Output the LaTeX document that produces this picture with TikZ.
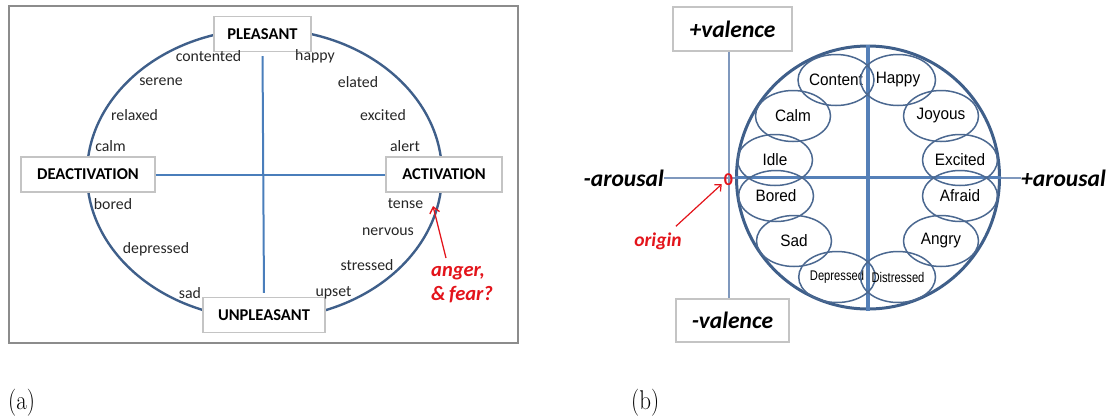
\documentclass[tikz,border=0pt]{standalone}
\usepackage{fontspec}
\newfontfamily\carl{Carlito}
\newfontfamily\arl{Liberation Sans}[FakeStretch=0.93]
\newfontfamily\arlc{Liberation Sans}[FakeStretch=0.8]
\usetikzlibrary{arrows.meta,shapes.geometric,calc}
\definecolor{ringA}{HTML}{3F5F8A}
\definecolor{axA}{HTML}{4A7EBB}
\definecolor{frameA}{HTML}{8C8C8C}
\definecolor{boxline}{HTML}{C4C4C4}
\definecolor{redt}{HTML}{E3141B}
\definecolor{axthin}{HTML}{7F98BD}
\definecolor{emocol}{HTML}{4B6890}
\definecolor{crossB}{HTML}{5580B8}
\tikzset{
  lbox/.style={draw=boxline, line width=1.2pt, fill=white, inner sep=0pt, minimum height=35pt,
    font=\carl\bfseries\fontsize{16.5}{19}\selectfont},
  word/.style={inner sep=0pt, text=black!85, font=\carl\fontsize{15.8}{18}\selectfont},
  redlab/.style={inner sep=0pt, text=redt, font=\carl\bfseries\itshape\fontsize{20.5}{22}\selectfont},
  redarrow/.style={draw=redt, line width=1.3pt, -{Straight Barb[length=6pt,width=10pt]}},
  vbox/.style={draw=boxline, line width=1.2pt, fill=white, inner sep=0pt,
    font=\carl\bfseries\itshape\fontsize{23.5}{26}\selectfont},
  axlab/.style={inner sep=0pt, font=\carl\bfseries\itshape\fontsize{23.5}{26}\selectfont},
  emo/.style={ellipse, draw=emocol, line width=1.5pt, minimum width=75pt, minimum height=51pt,
    inner sep=0pt, font=\arl\fontsize{16.5}{18}\selectfont},
  emos/.style={emo, font=\arlc\fontsize{14}{16}\selectfont},
  captxt/.style={inner sep=0pt, font=\fontsize{23}{26}\selectfont},
}
\begin{document}
\begin{tikzpicture}[x=1pt,y=-1pt]
\useasboundingbox (0,0) rectangle (1116,416);
% ---------------- panel (a) ----------------
\draw[frameA, line width=2.8pt] (9,6) rectangle (518,343);
\draw[ringA, line width=2.4pt] (264.5,174) ellipse [x radius=177.5pt, y radius=145pt];
\node[lbox, minimum width=97pt] (P) at (262.5,34) {PLEASANT};
\node[lbox, minimum width=134pt] (D) at (88,174.5) {DEACTIVATION};
\node[lbox, minimum width=116pt] (A) at (444,174.5) {ACTIVATION};
\node[lbox, minimum width=122pt] (U) at (264,315) {UNPLEASANT};
\draw[axA, line width=2pt, shorten <=4pt, shorten >=4pt] (P.south) -- (U.north);
\draw[axA, line width=2pt] (D.east) -- (A.west);
\node[word] (w1) at (208.5,56) {contented};
\node[word] (w2) at (315,56) {happy};
\node[word] (w3) at (161,82) {serene};
\node[word] (w4) at (358,82) {elated};
\node[word] (w5) at (134.5,115) {relaxed};
\node[word] (w6) at (383,115) {excited};
\node[word] (w7) at (110.5,146) {calm};
\node[word] (w8) at (405,146) {alert};
\node[word] (w9) at (113,204) {bored};
\node[word] (w10) at (405.5,204) {tense};
\node[word] (w11) at (156,249) {depressed};
\node[word] (w12) at (388,232) {nervous};
\node[word] (w13) at (367,265) {stressed};
\node[word] (w14) at (190,293) {sad};
\node[word] (w15) at (333.5,293) {upset};
\node[redlab, anchor=west] (anger) at (431,273) {anger,};
\node[redlab, anchor=west] (fear) at (431,295) {\&\,fear?};
\coordinate (tip) at (433,206);
\draw[redarrow] ([xshift=15pt,yshift=8pt]anger.north west) -- (tip);
% ---------------- panel (b) ----------------
\node[vbox, minimum width=119pt, minimum height=44pt] (pv) at (732.5,29) {+valence};
\node[vbox, minimum width=113pt, minimum height=43pt] (mv) at (732.5,320.5) {-valence};
\node[axlab, anchor=east] (na) at (664,178) {-arousal};
\node[axlab, anchor=west] (pa) at (1021,178) {+arousal};
\draw[axthin, line width=2pt] (pv.south -| 729,0) -- (mv.north -| 729,0);
\draw[axthin, line width=2pt] (na.east) -- (pa.west);
\node[inner sep=0pt, text=redt, font=\carl\bfseries\fontsize{18}{20}\selectfont] (z) at (728.5,180) {0};
\node[circle, draw=ringA, line width=3pt, minimum size=263pt, inner sep=0pt] (C) at (868,177.5) {};
\draw[crossB, line width=3.5pt] (C.north) -- (C.south);
\draw[crossB, line width=3.5pt] (C.west) -- (C.east);
\node[emo] (e1) at (836,80) {Content};
\node[emo] (e2) at (898,80) {Happy};
\node[emo] (e3) at (793,116) {Calm};
\node[emo] (e4) at (941,116) {Joyous};
\node[emo] (e5) at (775,160) {Idle};
\node[emo] (e6) at (960,160) {Excited};
\node[emo] (e7) at (776,196) {Bored};
\node[emo] (e8) at (960,196) {Afraid};
\node[emo] (e9) at (794,241) {Sad};
\node[emo] (e10) at (941,241) {Angry};
\node[emos] (e11) at (837,277) {Depressed};
\node[emos] (e12) at (898,277) {Distressed};
\node[redlab, font=\carl\bfseries\itshape\fontsize{19.5}{21}\selectfont] (orig) at (658,241) {origin};
\draw[redarrow, line width=1.2pt, -{Straight Barb[length=5pt,width=9pt]}] ([xshift=-6pt,yshift=6pt]orig.north east) -- ([xshift=-2pt,yshift=2pt]z.south west);
% captions
\node[captxt, anchor=base west] (la) at (8,409) {\scalebox{1}[1.18]{(a)}};
\node[captxt, anchor=base west] (lb) at (631,409) {\scalebox{1}[1.18]{(b)}};
\end{tikzpicture}
\end{document}
